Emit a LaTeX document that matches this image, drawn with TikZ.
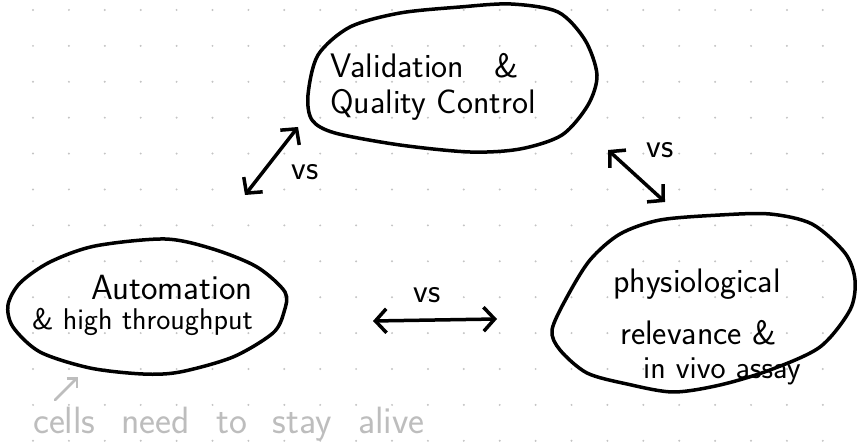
\documentclass[tikz,border=0pt]{standalone}
\usepackage{tikz}
\usetikzlibrary{arrows.meta}

\definecolor{pencil}{RGB}{189,189,189}
\definecolor{dotgrey}{RGB}{196,196,196}

\begin{document}
\begin{tikzpicture}[x=1pt,y=-1pt]
\tikzset{blob/.style={line width=3.5pt,line cap=round,line join=round},
         vsarrow/.style={line width=3.5pt,line cap=round,{Straight Barb[length=11pt,width=24pt]}-{Straight Barb[length=11pt,width=24pt]}},
         label text/.style={font=\sffamily\fontsize{34}{36}\selectfont,inner sep=0pt},
         vs/.style={font=\sffamily\fontsize{34}{36}\selectfont,inner sep=0pt},
         note/.style={font=\sffamily\fontsize{38}{40}\selectfont,inner sep=0pt,text=pencil}}
\useasboundingbox (0,0) rectangle (857,446);
\fill[white] (0,0) rectangle (857,446);

% dotted paper
\foreach \i in {0,...,23}
  \foreach \j in {0,...,12}
    \fill[dotgrey] (33+35.9*\i,10+35.9*\j) circle (1.1pt);

% the three blobs
\draw[blob] plot[smooth cycle] coordinates {(308,95) (318,55) (350,27) (400,13) (460,7) (511,4) (558,12) (585,40) (597,75) (588,105) (562,135) (520,149) (470,152) (400,145) (335,133) (312,120)};
\draw[blob] plot[smooth cycle] coordinates {(95,246) (165,239) (213,249) (257,267) (285,292) (284,312) (273,333) (233,357) (180,372) (143,374) (90,368) (40,352) (13,327) (8,305) (20,283) (50,262)};
\draw[blob] plot[smooth cycle] coordinates {(660,220) (720,215) (770,214) (812,224) (845,253) (855,280) (850,310) (820,347) (770,370) (720,385) (673,392) (627,384) (587,373) (560,350) (552,330) (567,297) (590,260) (620,234)};

\node (val) at (330,86.5) [label text,align=left,anchor=west] {Validation\hspace{30pt}\&\\Quality Control};
\node (auto) at (253,305) [label text,align=right,anchor=east] {{\fontsize{35}{38}\selectfont Automation}\\[-6pt]{\fontsize{30}{32}\selectfont\& high throughput}};
\node (phys) at (613,327) [label text,align=left,anchor=west] {physiological\\[16pt]\hspace{7pt}relevance \&\\[-2pt]\hspace{30pt}{\fontsize{32}{34}\selectfont in vivo assay}};

% arrow ends
\coordinate (a1) at (245,195);
\coordinate (a2) at (298,127);
\coordinate (b1) at (608,150);
\coordinate (b2) at (665,202);
\coordinate (c1) at (373,321);
\coordinate (c2) at (497,319);
\coordinate (g1) at (55,400);
\coordinate (g2) at (78,377);

\draw[vsarrow] (a1) -- (a2);
\draw[vsarrow] (b1) -- (b2);
\draw[vsarrow] (c1) -- (c2);
\node (vs1) at (305,172) [vs] {vs};
\node (vs2) at (660,150) [vs] {vs};
\node (vs3) at (427,295) [vs] {vs};

% pencil note
\draw[pencil,line width=2.5pt,line cap=round,-{Straight Barb[length=7pt,width=14pt]}] (g1) -- (g2);
\node (alive) at (33,433) [note,anchor=base west] {\spaceskip=26pt\relax cells need to stay alive};
\end{tikzpicture}
\end{document}
